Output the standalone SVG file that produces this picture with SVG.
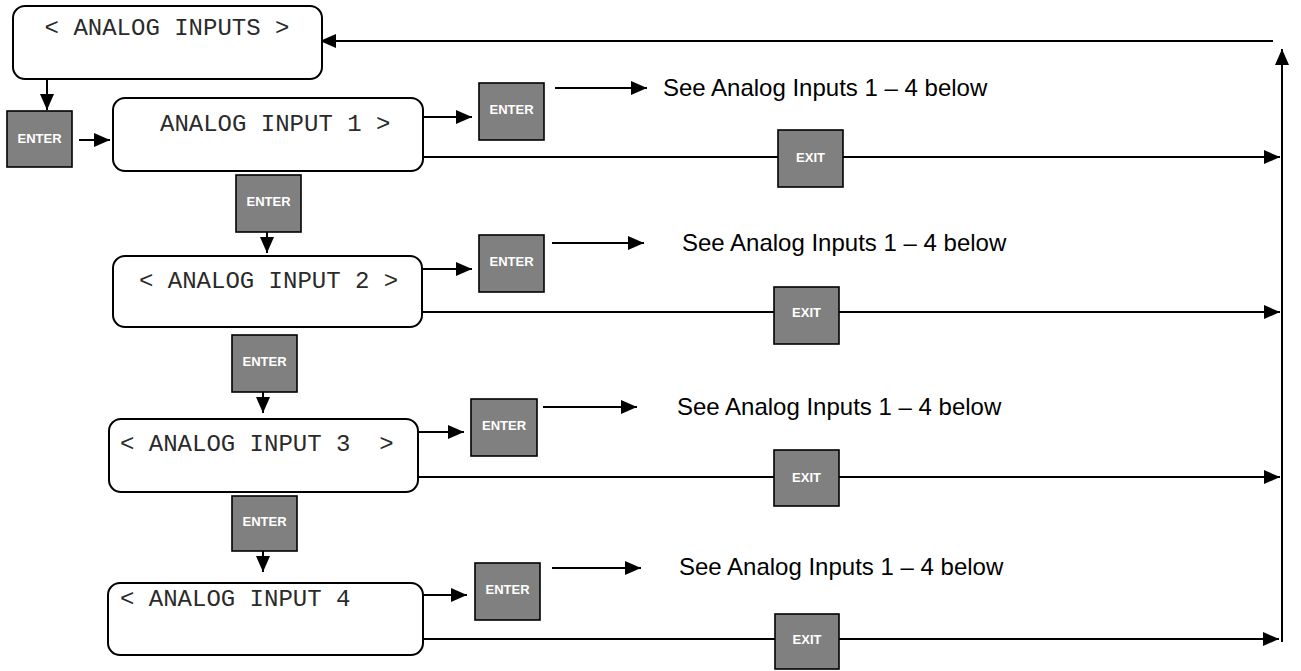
<svg xmlns="http://www.w3.org/2000/svg" width="1301" height="671" viewBox="0 0 1301 671">
<style>
.scr{fill:#fff;stroke:#000;stroke-width:2}
.mono{font-family:"Liberation Mono","Courier New",monospace;font-size:24px;fill:#2a2a2a}
.btn{fill:#808080;stroke:#000;stroke-width:1.6}
.bt{font-family:"Liberation Sans",Arial,sans-serif;font-size:13px;font-weight:bold;fill:#fff;text-anchor:middle}
.see{font-family:"Liberation Sans",Arial,sans-serif;font-size:24px;fill:#000}
.c{fill:none;stroke:#000;stroke-width:2}
</style>
<defs>
<marker id="ah" viewBox="0 0 16 14" refX="16" refY="7" markerWidth="16" markerHeight="14" markerUnits="userSpaceOnUse" orient="auto">
<path d="M0,0 L16,7 L0,14 z" fill="#000"/>
</marker>
</defs>
<rect width="1301" height="671" fill="#fff"/>
<g id="connectors">
<path class="c" d="M47,79 V110" marker-end="url(#ah)"/>
<path class="c" d="M79,140 H110" marker-end="url(#ah)"/>
<path class="c" d="M267,232 V253" marker-end="url(#ah)"/>
<path class="c" d="M263,392 V413" marker-end="url(#ah)"/>
<path class="c" d="M263,551 V572" marker-end="url(#ah)"/>
<path class="c" d="M423,117 H472" marker-end="url(#ah)"/>
<path class="c" d="M555,88 H647" marker-end="url(#ah)"/>
<path class="c" d="M423,157 H1280" marker-end="url(#ah)"/>
<path class="c" d="M422,269 H472" marker-end="url(#ah)"/>
<path class="c" d="M552,243 H644" marker-end="url(#ah)"/>
<path class="c" d="M422,312 H1280" marker-end="url(#ah)"/>
<path class="c" d="M418,432 H464" marker-end="url(#ah)"/>
<path class="c" d="M543,407 H637" marker-end="url(#ah)"/>
<path class="c" d="M418,477 H1280" marker-end="url(#ah)"/>
<path class="c" d="M423,595 H467" marker-end="url(#ah)"/>
<path class="c" d="M552,568 H641" marker-end="url(#ah)"/>
<path class="c" d="M423,639 H1279" marker-end="url(#ah)"/>
<path class="c" d="M1282,642 V49" marker-end="url(#ah)"/>
<path class="c" d="M1273,41 H320" marker-end="url(#ah)"/>
</g>
<g id="menu">
<rect class="scr" x="13" y="6" width="309" height="73" rx="12"/>
<text class="mono" x="167" y="35" text-anchor="middle">&lt; ANALOG INPUTS &gt;</text>
</g>
<g id="input1">
<rect class="scr" x="113" y="98" width="310" height="73" rx="12"/>
<text class="mono" x="160" y="131">ANALOG INPUT 1 &gt;</text>
</g>
<g id="input2">
<rect class="scr" x="113" y="256" width="309" height="71" rx="12"/>
<text class="mono" x="139" y="288" xml:space="preserve">&lt; ANALOG INPUT 2 &gt;</text>
</g>
<g id="input3">
<rect class="scr" x="109" y="419" width="309" height="73" rx="12"/>
<text class="mono" x="120" y="451" xml:space="preserve">&lt; ANALOG INPUT 3  &gt;</text>
</g>
<g id="input4">
<rect class="scr" x="108" y="583" width="315" height="72" rx="12"/>
<text class="mono" x="120" y="606">&lt; ANALOG INPUT 4</text>
</g>
<g id="enter0"><rect class="btn" x="7" y="111" width="65" height="56"/><text class="bt" x="39.5" y="143">ENTER</text></g>
<g id="enter1"><rect class="btn" x="236" y="175" width="65" height="57"/><text class="bt" x="268.5" y="206">ENTER</text></g>
<g id="enter2"><rect class="btn" x="232" y="335" width="65" height="57"/><text class="bt" x="264.5" y="366">ENTER</text></g>
<g id="enter3"><rect class="btn" x="232" y="496" width="65" height="55"/><text class="bt" x="264.5" y="526">ENTER</text></g>
<g id="enterR1"><rect class="btn" x="479" y="83" width="65" height="57"/><text class="bt" x="511.5" y="114">ENTER</text></g>
<g id="enterR2"><rect class="btn" x="479" y="235" width="65" height="57"/><text class="bt" x="511.5" y="266">ENTER</text></g>
<g id="enterR3"><rect class="btn" x="471" y="399" width="66" height="57"/><text class="bt" x="504" y="430">ENTER</text></g>
<g id="enterR4"><rect class="btn" x="475" y="563" width="65" height="57"/><text class="bt" x="507.5" y="594">ENTER</text></g>
<g id="exit1"><rect class="btn" x="778" y="130" width="65" height="57"/><text class="bt" x="810.5" y="162">EXIT</text></g>
<g id="exit2"><rect class="btn" x="774" y="287" width="65" height="57"/><text class="bt" x="806.5" y="317">EXIT</text></g>
<g id="exit3"><rect class="btn" x="774" y="450" width="65" height="56"/><text class="bt" x="806.5" y="482">EXIT</text></g>
<g id="exit4"><rect class="btn" x="775" y="614" width="64" height="55"/><text class="bt" x="807" y="644">EXIT</text></g>
<g id="note1"><text class="see" x="663" y="96">See Analog Inputs 1 – 4 below</text></g>
<g id="note2"><text class="see" x="682" y="251">See Analog Inputs 1 – 4 below</text></g>
<g id="note3"><text class="see" x="677" y="415">See Analog Inputs 1 – 4 below</text></g>
<g id="note4"><text class="see" x="679" y="575">See Analog Inputs 1 – 4 below</text></g>
</svg>
